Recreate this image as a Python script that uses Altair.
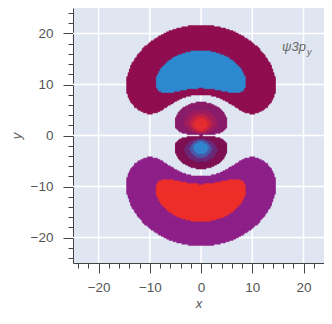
import numpy as np
import pandas as pd
import altair as alt

# ---- chart values -------------------------------------------------------
X_DOMAIN = [-25, 24]
Y_DOMAIN = [-25, 25]
MAJOR_TICKS = [-20, -10, 0, 10, 20]
MINOR_TICKS = list(range(-24, 26, 2))
GRID_STEP = 0.25          # sampling step of the field (plot units)
BOHR_UNIT = 1.2           # plot units per Bohr radius
RADIAL_NODE = 6.0         # radial node of 3p (in a0)
OUTER_LEVELS = [0.54, 1.05]                 # |psi| contour levels, outer shell
INNER_LEVELS = [0.54, 1.8, 2.7, 3.4]        # |psi| contour levels, inner shell
LEVEL_NAMES = [
    "out_neg_1", "out_neg_2", "out_pos_1", "out_pos_2",
    "in_neg_1", "in_neg_2", "in_neg_3", "in_neg_4",
    "in_pos_1", "in_pos_2", "in_pos_3", "in_pos_4",
]
LEVEL_COLORS = [
    "#900f50", "#2e8ad0", "#8e2089", "#ee2f2a",
    "#7e1052", "#6a2a78", "#4a5aa8", "#3186cf",
    "#8a1d6a", "#a21f5c", "#c42545", "#e52d32",
]
LABEL_TEXT = ["ψ3p", "y"]

# ---- field: psi_3py sampled on a grid, merged into row runs -------------
n = int(round((Y_DOMAIN[1] - Y_DOMAIN[0]) / GRID_STEP))
c = Y_DOMAIN[0] + (np.arange(n) + 0.5) * GRID_STEP
X, Y = np.meshgrid(c, c)
rho = np.hypot(X, Y) / BOHR_UNIT
psi = (RADIAL_NODE - rho) * (Y / BOHR_UNIT) * np.exp(-rho / 3.0)
a = np.abs(psi)
inner = rho < RADIAL_NODE
pos = psi > 0

codes = np.zeros(psi.shape, dtype=int)
o1 = (~inner) & (a >= OUTER_LEVELS[0])
o2 = (~inner) & (a >= OUTER_LEVELS[1])
codes[o1 & ~pos] = 1
codes[o2 & ~pos] = 2
codes[o1 & pos] = 3
codes[o2 & pos] = 4
for k, lv in enumerate(INNER_LEVELS):
    m = inner & (a >= lv)
    codes[m & ~pos] = 5 + k
    codes[m & pos] = 9 + k

half = GRID_STEP / 2
pad = GRID_STEP * 0.3   # small overlap so neighbouring rows leave no seams
rows = []
for j in range(n):
    r = codes[j]
    ch = np.flatnonzero(np.diff(r)) + 1
    starts = np.r_[0, ch]
    ends = np.r_[ch, n]
    for s, e in zip(starts, ends):
        if r[s]:
            rows.append({
                "x": c[s] - half, "x2": c[e - 1] + half,
                "y": c[j] - half - pad, "y2": c[j] + half + pad,
                "level": LEVEL_NAMES[r[s] - 1],
            })
field = pd.DataFrame(rows)

# ---- chart ----------------------------------------------------------------
is_major = "abs(datum.value) % 10 === 0"
axis_common = dict(
    values=MINOR_TICKS,
    tickCount=len(MINOR_TICKS) + 5,
    labelExpr=f"{is_major} ? datum.label : ''",
    labelOverlap=False,
    tickSize={"condition": {"test": is_major, "value": 10}, "value": 5},
    tickColor="#444444",
    tickWidth=1,
    domainColor="#444444",
    domainWidth=1,
    grid=False,
    labelFont="Liberation Sans",
    labelFontSize=13.5,
    labelColor="#555555",
    titleFont="Liberation Sans",
    titleFontSize=13,
    titleFontStyle="italic",
    titleFontWeight="normal",
    titleColor="#555555",
)

xs = alt.Scale(domain=X_DOMAIN, nice=False, zero=False)
ys = alt.Scale(domain=Y_DOMAIN, nice=False, zero=False)

grid_df = pd.DataFrame({"v": MAJOR_TICKS})
vgrid = alt.Chart(grid_df).mark_rule(color="white", strokeWidth=1.5).encode(
    x=alt.X("v:Q", scale=xs, axis=alt.Axis(title="x", labelPadding=7, titlePadding=4, **axis_common)),
)
hgrid = alt.Chart(grid_df).mark_rule(color="white", strokeWidth=1.5).encode(
    y=alt.Y("v:Q", scale=ys, axis=alt.Axis(title="y", labelPadding=10, titlePadding=7, **axis_common)),
)

color_scale = alt.Scale(domain=LEVEL_NAMES, range=LEVEL_COLORS)
lobes = alt.Chart(field).mark_rect(strokeWidth=0.5, clip=True).encode(
    x=alt.X("x:Q", scale=xs),
    x2="x2:Q",
    y=alt.Y("y:Q", scale=ys),
    y2="y2:Q",
    color=alt.Color("level:N", scale=color_scale, legend=None),
    stroke=alt.Stroke("level:N", scale=color_scale, legend=None),
)

lab_df = pd.DataFrame({"main": [LABEL_TEXT[0]], "sub": [LABEL_TEXT[1]]})
lab_main = alt.Chart(lab_df).mark_text(
    align="left", baseline="middle", font="Liberation Sans", fontSize=13,
    fontStyle="italic", color="#666666",
).encode(x=alt.value(209), y=alt.value(39), text="main:N")
lab_sub = alt.Chart(lab_df).mark_text(
    align="left", baseline="middle", font="Liberation Sans", fontSize=9,
    fontStyle="italic", color="#666666",
).encode(x=alt.value(234), y=alt.value(44), text="sub:N")

chart = alt.layer(vgrid, hgrid, lobes, lab_main, lab_sub).properties(
    width=251,
    height=255,
    autosize=alt.AutoSizeParams(type="none"),
    padding={"left": 65, "top": 0, "right": 0, "bottom": 52},
    background="white",
).configure_view(fill="#dfe6f2", stroke=None)

chart.save("out.html", embed_options={"renderer": "svg", "actions": False})
